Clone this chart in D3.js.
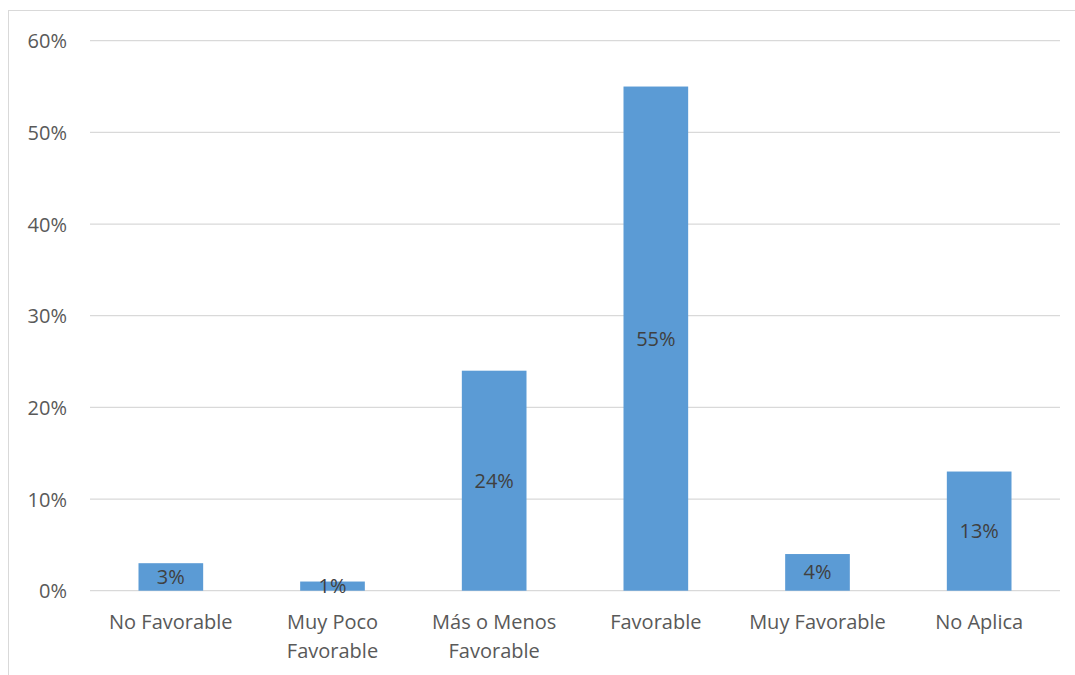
<!DOCTYPE html>
<html><head><meta charset="utf-8">
<script src="https://cdn.jsdelivr.net/npm/d3@7"></script>
<style>body{margin:0;background:#fff;} text{font-family:"Open Sans",sans-serif;}</style>
</head><body>
<svg id="c" width="1075" height="675"></svg>
<script>
const categories = [["No Favorable"],["Muy Poco","Favorable"],["Más o Menos","Favorable"],["Favorable"],["Muy Favorable"],["No Aplica"]];
const values = [3, 1, 24, 55, 4, 13];
const yTicks = [0, 10, 20, 30, 40, 50, 60];

const svg = d3.select("#c");
svg.append("rect").attr("x",8.5).attr("y",10.5).attr("width",1075).attr("height",700)
  .attr("fill","#fff").attr("stroke","#d9d9d9").attr("stroke-width",1);

const x0 = 90, x1 = 1060, yBot = 590.7, yTop = 40.7;
const x = d3.scaleBand().domain(d3.range(categories.length)).range([x0, x1]).paddingInner(0.6).paddingOuter(0.3);
const y = d3.scaleLinear().domain([0, 60]).range([yBot, yTop]);

svg.append("g").selectAll("line").data(yTicks).join("line")
  .attr("x1", x0).attr("x2", x1)
  .attr("y1", d => y(d)).attr("y2", d => y(d))
  .attr("stroke", "#d9d9d9").attr("stroke-width", 1.3);

const yAxis = d3.axisLeft(y).tickValues(yTicks).tickFormat(d => d + "%").tickSize(0).tickPadding(0);
const ya = svg.append("g").attr("transform", "translate(67,0)").call(yAxis);
ya.select(".domain").remove();
ya.selectAll("text").attr("font-size", 20).attr("fill", "#595959").attr("font-family", "\"Open Sans\",sans-serif").attr("dy","0.35em");

svg.append("g").selectAll("rect").data(values).join("rect")
  .attr("x", (d, i) => x(i)).attr("width", x.bandwidth())
  .attr("y", d => y(d)).attr("height", d => yBot - y(d))
  .attr("fill", "#5b9bd5");

svg.append("g").selectAll("text").data(values).join("text")
  .attr("x", (d, i) => x(i) + x.bandwidth() / 2)
  .attr("y", d => (y(d) + yBot) / 2)
  .attr("dy", "0.35em").attr("text-anchor", "middle")
  .attr("font-size", 20).attr("fill", "#404040")
  .text(d => d + "%");

const xl = svg.append("g").selectAll("text").data(categories).join("text")
  .attr("text-anchor", "middle").attr("font-size", 20).attr("fill", "#595959")
  .attr("x", (d, i) => x(i) + x.bandwidth() / 2)
  .attr("y", 629);
xl.selectAll("tspan").data(d => d).join("tspan")
  .attr("x", function(){ return d3.select(this.parentNode).attr("x"); })
  .attr("dy", (d, i) => i === 0 ? 0 : 29)
  .text(d => d);
</script>
</body></html>
